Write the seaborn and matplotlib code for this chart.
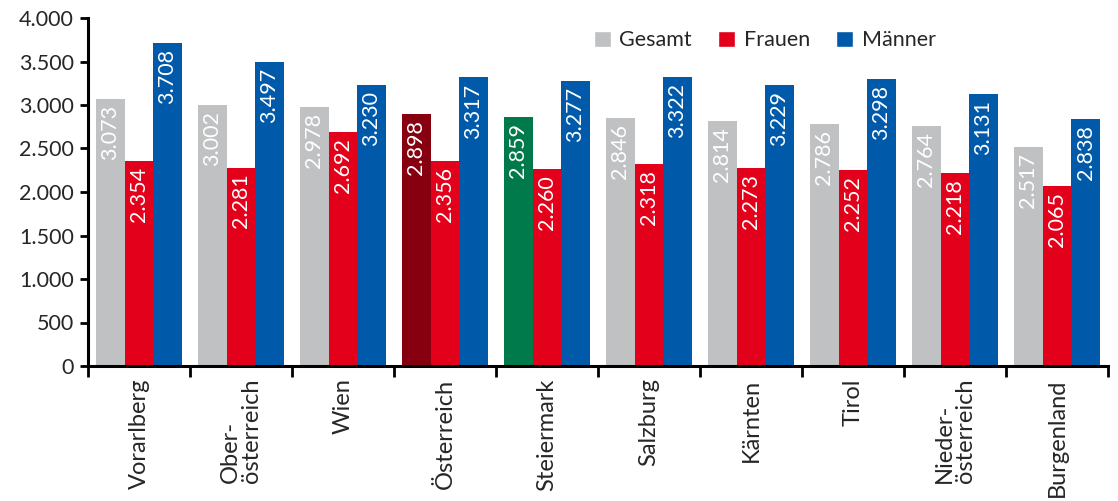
import matplotlib
matplotlib.use("Agg")
import matplotlib.pyplot as plt
import seaborn as sns
import pandas as pd
from matplotlib.patches import Patch
from matplotlib.ticker import FuncFormatter, FixedLocator

categories = ["Vorarlberg", "Ober-\nösterreich", "Wien", "Österreich", "Steiermark",
              "Salzburg", "Kärnten", "Tirol", "Nieder-\nösterreich", "Burgenland"]
gesamt = [3073, 3002, 2978, 2898, 2859, 2846, 2814, 2786, 2764, 2517]
frauen = [2354, 2281, 2692, 2356, 2260, 2318, 2273, 2252, 2218, 2065]
maenner = [3708, 3497, 3230, 3317, 3277, 3322, 3229, 3298, 3131, 2838]
series_names = ["Gesamt", "Frauen", "Männer"]
colors = {"Gesamt": "#BFC1C2", "Frauen": "#E2001A", "Männer": "#005AA9"}
highlight = {3: "#870010", 4: "#007A4A"}

sns.set_theme(style="white")
plt.rcParams["font.family"] = ["Lato", "DejaVu Sans"]

rows = []
for i, c in enumerate(categories):
    rows.append((c, "Gesamt", gesamt[i]))
    rows.append((c, "Frauen", frauen[i]))
    rows.append((c, "Männer", maenner[i]))
df = pd.DataFrame(rows, columns=["Region", "Serie", "Wert"])

fig = plt.figure(figsize=(11.18, 5.01), dpi=100)
ax = fig.add_axes([88 / 1118, 1 - 366 / 501, 1020 / 1118, 348 / 501])

sns.barplot(data=df, x="Region", y="Wert", hue="Serie", order=categories,
            hue_order=series_names, palette=colors, width=0.84, saturation=1,
            legend=False, ax=ax, linewidth=0)

for idx, color in highlight.items():
    ax.containers[0][idx].set_facecolor(color)

fmt = lambda v: f"{int(v):,}".replace(",", ".")
for cont in ax.containers:
    for bar in cont:
        h = bar.get_height()
        ax.text(bar.get_x() + bar.get_width() / 2, h - 70, fmt(h),
                rotation=90, ha="center", va="top", color="white", fontsize=15.5)

ax.set_ylim(0, 4000)
ax.set_xlim(-0.5, 9.5)
ax.yaxis.set_major_locator(FixedLocator(range(0, 4001, 500)))
ax.yaxis.set_major_formatter(FuncFormatter(lambda v, p: fmt(v)))
ax.set_xlabel("")
ax.set_ylabel("")

for s in ["top", "right"]:
    ax.spines[s].set_visible(False)
for s in ["left", "bottom"]:
    ax.spines[s].set_color("black")
    ax.spines[s].set_linewidth(2.2)

ax.tick_params(axis="y", which="major", direction="out", length=6, width=2,
               color="black", labelsize=15.5, pad=4, left=True)
ax.set_xticks(range(len(categories)))
ax.set_xticklabels(categories, rotation=90, va="top", ha="center", fontsize=17,
                   multialignment="left", linespacing=1.0)
ax.set_xticks([i - 0.5 for i in range(len(categories) + 1)], minor=True)
ax.tick_params(axis="x", which="major", length=0, pad=9)
ax.tick_params(axis="x", which="minor", direction="out", length=8, width=2,
               color="black", bottom=True)

handles = [Patch(facecolor=colors[n], label=n) for n in series_names]
ax.legend(handles=handles, loc="upper right", bbox_to_anchor=(0.85, 1.02), ncol=3,
          frameon=False, fontsize=15.5, handlelength=0.8, handleheight=0.8,
          handletextpad=0.4, columnspacing=1.2)

fig.savefig("out.png", dpi=100)
